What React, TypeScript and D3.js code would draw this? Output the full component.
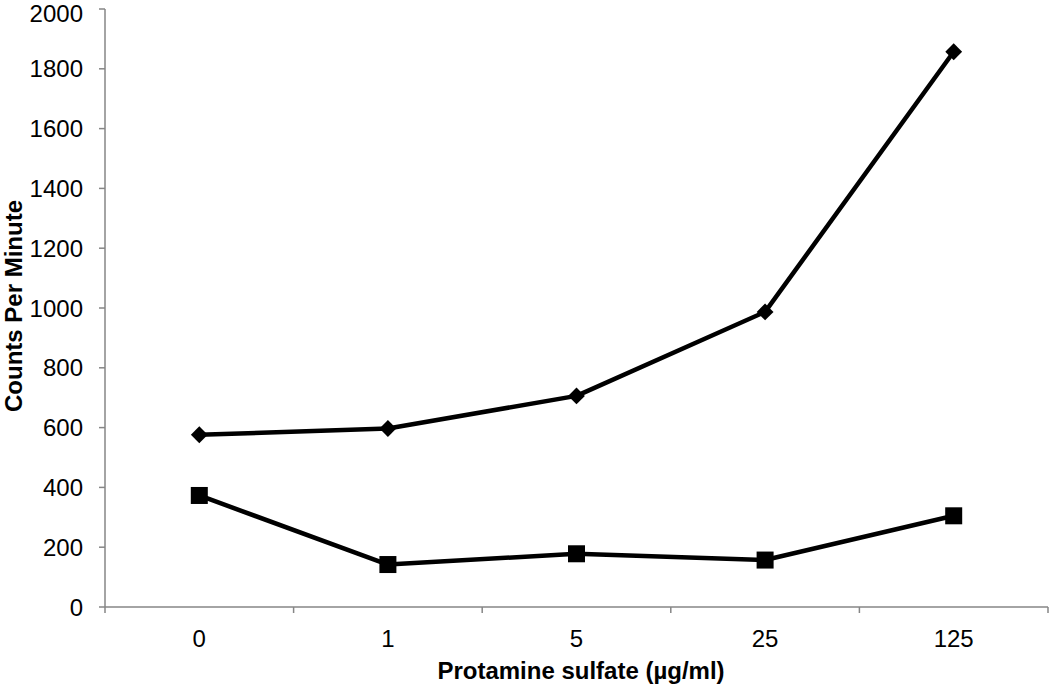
import React, { useEffect, useRef } from 'react'
import * as d3 from 'd3'

const categories = ['0', '1', '5', '25', '125']
const diamondSeries = [576, 597, 706, 987, 1857]
const squareSeries = [373, 142, 178, 157, 305]
const yTicks = [0, 200, 400, 600, 800, 1000, 1200, 1400, 1600, 1800, 2000]

const WIDTH = 1050
const HEIGHT = 686

export default function App() {
  const svgRef = useRef<SVGSVGElement>(null)

  useEffect(() => {
    const svg = d3.select(svgRef.current)
    svg.selectAll('*').remove()

    const left = 105
    const right = 1048
    const top = 9
    const bottom = 607
    const font = 'Liberation Sans, Arial, sans-serif'
    const axisColor = '#868686'

    const x = d3.scaleBand<string>().domain(categories).range([left, right])
    const y = d3.scaleLinear().domain([0, 2000]).range([bottom, top])
    const cx = (c: string) => (x(c) as number) + x.bandwidth() / 2

    // y axis
    svg.append('line')
      .attr('x1', left).attr('x2', left)
      .attr('y1', top).attr('y2', bottom)
      .attr('stroke', axisColor).attr('stroke-width', 1.5)

    svg.selectAll('.ytick')
      .data(yTicks)
      .enter().append('line')
      .attr('x1', left - 6).attr('x2', left)
      .attr('y1', d => y(d)).attr('y2', d => y(d))
      .attr('stroke', axisColor).attr('stroke-width', 1.5)

    // top label nudged down a little so it stays inside the picture
    svg.selectAll('.ylabel')
      .data(yTicks)
      .enter().append('text')
      .attr('x', 83)
      .attr('y', d => Math.max(y(d), 13))
      .attr('dy', '0.36em')
      .attr('text-anchor', 'end')
      .style('font-family', font)
      .style('font-size', '24px')
      .style('fill', '#000')
      .text(d => d)

    // x axis
    svg.append('line')
      .attr('x1', left).attr('x2', right)
      .attr('y1', bottom).attr('y2', bottom)
      .attr('stroke', axisColor).attr('stroke-width', 1.5)

    const bounds = categories.map(c => x(c) as number).concat([right])
    svg.selectAll('.xtick')
      .data(bounds)
      .enter().append('line')
      .attr('x1', d => d).attr('x2', d => d)
      .attr('y1', bottom).attr('y2', bottom + 6)
      .attr('stroke', axisColor).attr('stroke-width', 1.5)

    svg.selectAll('.xlabel')
      .data(categories)
      .enter().append('text')
      .attr('x', d => cx(d))
      .attr('y', 647)
      .attr('text-anchor', 'middle')
      .style('font-family', font)
      .style('font-size', '24px')
      .style('fill', '#000')
      .text(d => d)

    // titles
    svg.append('text')
      .attr('x', 581)
      .attr('y', 679)
      .attr('text-anchor', 'middle')
      .style('font-family', font)
      .style('font-size', '24px')
      .style('font-weight', 'bold')
      .text('Protamine sulfate (µg/ml)')

    svg.append('text')
      .attr('transform', `translate(22, 306) rotate(-90)`)
      .attr('text-anchor', 'middle')
      .style('font-family', font)
      .style('font-size', '24px')
      .style('font-weight', 'bold')
      .text('Counts Per Minute')

    const line = d3.line<number>()
      .x((_, i) => cx(categories[i]))
      .y(d => y(d))

    // diamond series
    svg.append('path')
      .datum(diamondSeries)
      .attr('d', line)
      .attr('fill', 'none')
      .attr('stroke', '#000')
      .attr('stroke-width', 4.5)
      .attr('stroke-linejoin', 'round')

    svg.selectAll('.diamond')
      .data(diamondSeries)
      .enter().append('path')
      .attr('d', d3.symbol().type(d3.symbolDiamond2).size(180))
      .attr('transform', (d, i) => `translate(${cx(categories[i])},${y(d)})`)
      .attr('fill', '#000')

    // square series
    svg.append('path')
      .datum(squareSeries)
      .attr('d', line)
      .attr('fill', 'none')
      .attr('stroke', '#000')
      .attr('stroke-width', 4.5)
      .attr('stroke-linejoin', 'round')

    svg.selectAll('.square')
      .data(squareSeries)
      .enter().append('rect')
      .attr('x', (d, i) => cx(categories[i]) - 8.5)
      .attr('y', d => y(d) - 8.5)
      .attr('width', 17)
      .attr('height', 17)
      .attr('fill', '#000')
  }, [])

  return (
    <svg
      ref={svgRef}
      width={WIDTH}
      height={HEIGHT}
      style={{ position: 'absolute', left: 0, top: 0, background: '#fff' }}
    />
  )
}
